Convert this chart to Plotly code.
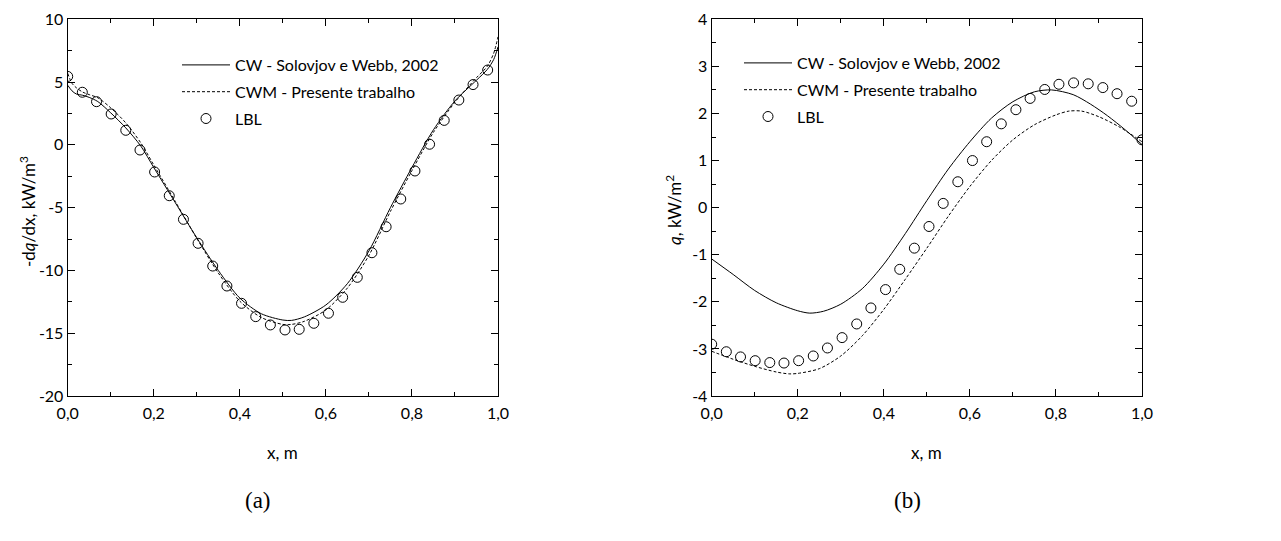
import plotly.graph_objects as go

# ---------------- data ----------------
# LBL reference points (x positions, shared by both panels)
lbl_x = [0.0, 0.034, 0.067, 0.101, 0.135, 0.168, 0.202, 0.236, 0.269, 0.303,
         0.337, 0.370, 0.404, 0.437, 0.471, 0.505, 0.538, 0.572, 0.606, 0.639,
         0.673, 0.707, 0.740, 0.774, 0.807, 0.841, 0.875, 0.909, 0.942, 0.976, 1.0]

# panel (a): -dq/dx, kW/m^3
lbl_a = [5.45, 4.19, 3.44, 2.46, 1.16, -0.41, -2.16, -4.05, -5.93, -7.84,
         -9.65, -11.24, -12.62, -13.68, -14.34, -14.74, -14.69, -14.21, -13.41, -12.14,
         -10.55, -8.59, -6.52, -4.31, -2.08, 0.05, 1.95, 3.57, 4.80, 5.96]

cw_x_a = [0.0, 0.01, 0.02, 0.035, 0.05, 0.07, 0.1, 0.135, 0.17, 0.2, 0.25, 0.3, 0.35,
          0.4, 0.45, 0.5, 0.52, 0.55, 0.6, 0.65, 0.7, 0.75, 0.8, 0.85, 0.9, 0.95,
          0.975, 0.99, 1.0]
cw_a = [4.75, 4.3, 4.05, 3.95, 3.78, 3.45, 2.55, 1.35, -0.1, -1.8, -4.6, -7.4, -10.0,
        -12.2, -13.45, -13.95, -13.98, -13.7, -12.75, -11.05, -8.45, -5.0, -1.8, 1.2,
        3.5, 5.15, 6.0, 6.8, 7.8]
cwm_a = [5.7, 4.9, 4.55, 4.2, 4.0, 3.75, 2.95, 1.75, 0.15, -1.6, -4.5, -7.45, -10.2,
         -12.45, -13.75, -14.3, -14.3, -14.05, -13.15, -11.4, -8.8, -5.3, -2.05, 1.0,
         3.4, 5.35, 6.25, 7.3, 8.6]

# panel (b): q, kW/m^2
lbl_b = [-2.90, -3.06, -3.17, -3.25, -3.29, -3.30, -3.25, -3.15, -2.98, -2.76,
         -2.47, -2.13, -1.74, -1.31, -0.86, -0.40, 0.09, 0.55, 1.00, 1.40,
         1.78, 2.08, 2.32, 2.51, 2.62, 2.65, 2.63, 2.55, 2.42, 2.26, 1.44]

cw_x_b = [0.0, 0.05, 0.1, 0.15, 0.2, 0.228, 0.26, 0.3, 0.35, 0.4, 0.45, 0.5, 0.55,
          0.6, 0.65, 0.7, 0.75, 0.79, 0.84, 0.88, 0.92, 0.96, 1.0]
cw_b = [-1.09, -1.42, -1.76, -2.02, -2.19, -2.24, -2.2, -2.05, -1.72, -1.2, -0.55,
        0.15, 0.82, 1.4, 1.9, 2.25, 2.46, 2.5, 2.4, 2.2, 1.95, 1.66, 1.34]

cwm_x_b = [0.0, 0.05, 0.1, 0.15, 0.18, 0.2, 0.25, 0.3, 0.35, 0.4, 0.45, 0.5, 0.55,
           0.6, 0.65, 0.7, 0.75, 0.8, 0.83, 0.86, 0.9, 0.95, 1.0]
cwm_b = [-3.05, -3.22, -3.37, -3.49, -3.53, -3.52, -3.42, -3.15, -2.72, -2.16, -1.52,
         -0.86, -0.18, 0.45, 1.0, 1.44, 1.76, 1.97, 2.05, 2.05, 1.93, 1.7, 1.40]

names = ["CW - Solovjov e Webb, 2002", "CWM - Presente trabalho", "LBL"]

x_tickvals = [0.0, 0.2, 0.4, 0.6, 0.8, 1.0]
x_ticktext = ["0,0", "0,2", "0,4", "0,6", "0,8", "1,0"]
ya_tickvals = [-20, -15, -10, -5, 0, 5, 10]
ya_ticktext = ["-20", "-15", "-10", "-5", "0", "5", "10"]
yb_tickvals = [-4, -3, -2, -1, 0, 1, 2, 3, 4]
yb_ticktext = ["-4", "-3", "-2", "-1", "0", "1", "2", "3", "4"]

# ---------------- figure ----------------
FONT = "Lato"
fig = go.Figure()

def add_panel(xa, ya, legend, tag, cwx, cwy, cwmx, cwmy, lx, ly):
    fig.add_trace(go.Scatter(x=cwx, y=cwy, mode="lines", name=names[0],
                             line=dict(color="black", width=1, shape="spline", smoothing=0.8),
                             xaxis=xa, yaxis=ya, legend=legend, legendgroup=tag + "1"))
    fig.add_trace(go.Scatter(x=cwmx, y=cwmy, mode="lines", name=names[1],
                             line=dict(color="black", width=1, dash="3px,2px",
                                       shape="spline", smoothing=0.8),
                             xaxis=xa, yaxis=ya, legend=legend, legendgroup=tag + "2"))
    fig.add_trace(go.Scatter(x=lx, y=ly, mode="markers", name=names[2],
                             marker=dict(symbol="circle-open", size=10, color="black",
                                         line=dict(width=1, color="black")),
                             xaxis=xa, yaxis=ya, legend=legend, legendgroup=tag + "3",
                             cliponaxis=True))

add_panel("x", "y", "legend", "a", cw_x_a, cw_a, cw_x_a, cwm_a, lbl_x[:30], lbl_a)
add_panel("x2", "y2", "legend2", "b", cw_x_b, cw_b, cwm_x_b, cwm_b, lbl_x, lbl_b)

W, H = 1281, 541
dx1 = [67.7 / W, 498 / W]
dx2 = [711.7 / W, 1142 / W]
dy = [1 - 396 / H, 1 - 19.3 / H]

axis_common = dict(showline=True, linecolor="black", linewidth=1.2, mirror="ticks",
                   ticks="inside", ticklen=7, tickwidth=1.2, tickcolor="black",
                   showgrid=False, zeroline=False, automargin=False,
                   tickfont=dict(family=FONT, size=16, color="black"))
minor_x = dict(dtick=0.1, tick0=0, ticks="inside", ticklen=4, tickcolor="black", tickwidth=1)

fig.update_layout(
    template="none",
    width=W, height=H, margin=dict(l=0, r=0, t=0, b=0, autoexpand=False),
    paper_bgcolor="white", plot_bgcolor="white",
    xaxis=dict(domain=dx1, range=[0, 1], tickvals=x_tickvals, ticktext=x_ticktext,
               minor=minor_x, anchor="y", ticklabelstandoff=3, **axis_common),
    yaxis=dict(domain=dy, range=[-20, 10], tickvals=ya_tickvals, ticktext=ya_ticktext,
               minor=dict(dtick=2.5, tick0=0, ticks="inside", ticklen=4, tickcolor="black", tickwidth=1),
               anchor="x", **axis_common),
    xaxis2=dict(domain=dx2, range=[0, 1], tickvals=x_tickvals, ticktext=x_ticktext,
                minor=minor_x, anchor="y2", ticklabelstandoff=3, **axis_common),
    yaxis2=dict(domain=dy, range=[-4, 4], tickvals=yb_tickvals, ticktext=yb_ticktext,
                minor=dict(dtick=0.5, tick0=0, ticks="inside", ticklen=4, tickcolor="black", tickwidth=1),
                anchor="x2", **axis_common),
    legend=dict(x=177 / W, y=1 - 48 / H, xanchor="left", yanchor="top",
                bgcolor="rgba(0,0,0,0)", itemwidth=48, tracegroupgap=3,
                traceorder="grouped",
                font=dict(family=FONT, size=16, color="black")),
    legend2=dict(x=739 / W, y=1 - 46 / H, xanchor="left", yanchor="top",
                 bgcolor="rgba(0,0,0,0)", itemwidth=48, tracegroupgap=3,
                 traceorder="grouped",
                 font=dict(family=FONT, size=16, color="black")),
    showlegend=True,
)

ann_font = dict(family=FONT, size=17, color="black")
annotations = [
    dict(text="x, m", x=282 / W, y=1 - 452 / H, xref="paper", yref="paper",
         showarrow=False, font=ann_font, xanchor="center", yanchor="middle"),
    dict(text="x, m", x=926 / W, y=1 - 452 / H, xref="paper", yref="paper",
         showarrow=False, font=ann_font, xanchor="center", yanchor="middle"),
    dict(text="-d<i>q</i>/dx, kW/m<sup>3</sup>", x=27 / W, y=1 - 212 / H, xref="paper",
         yref="paper", showarrow=False, font=ann_font, textangle=-90,
         xanchor="center", yanchor="middle"),
    dict(text="<i>q</i>, kW/m<sup>2</sup>", x=673 / W, y=1 - 210 / H, xref="paper",
         yref="paper", showarrow=False, font=ann_font, textangle=-90,
         xanchor="center", yanchor="middle"),
    dict(text="(a)", x=258 / W, y=1 - 500 / H, xref="paper", yref="paper",
         showarrow=False, font=dict(family="Liberation Serif", size=23, color="black"),
         xanchor="center", yanchor="middle"),
    dict(text="(b)", x=907 / W, y=1 - 500 / H, xref="paper", yref="paper",
         showarrow=False, font=dict(family="Liberation Serif", size=23, color="black"),
         xanchor="center", yanchor="middle"),
]
fig.update_layout(annotations=annotations)

fig.write_html("out.html", config={"displayModeBar": False},
               post_script="document.body.style.margin='0';document.body.style.padding='0';")
